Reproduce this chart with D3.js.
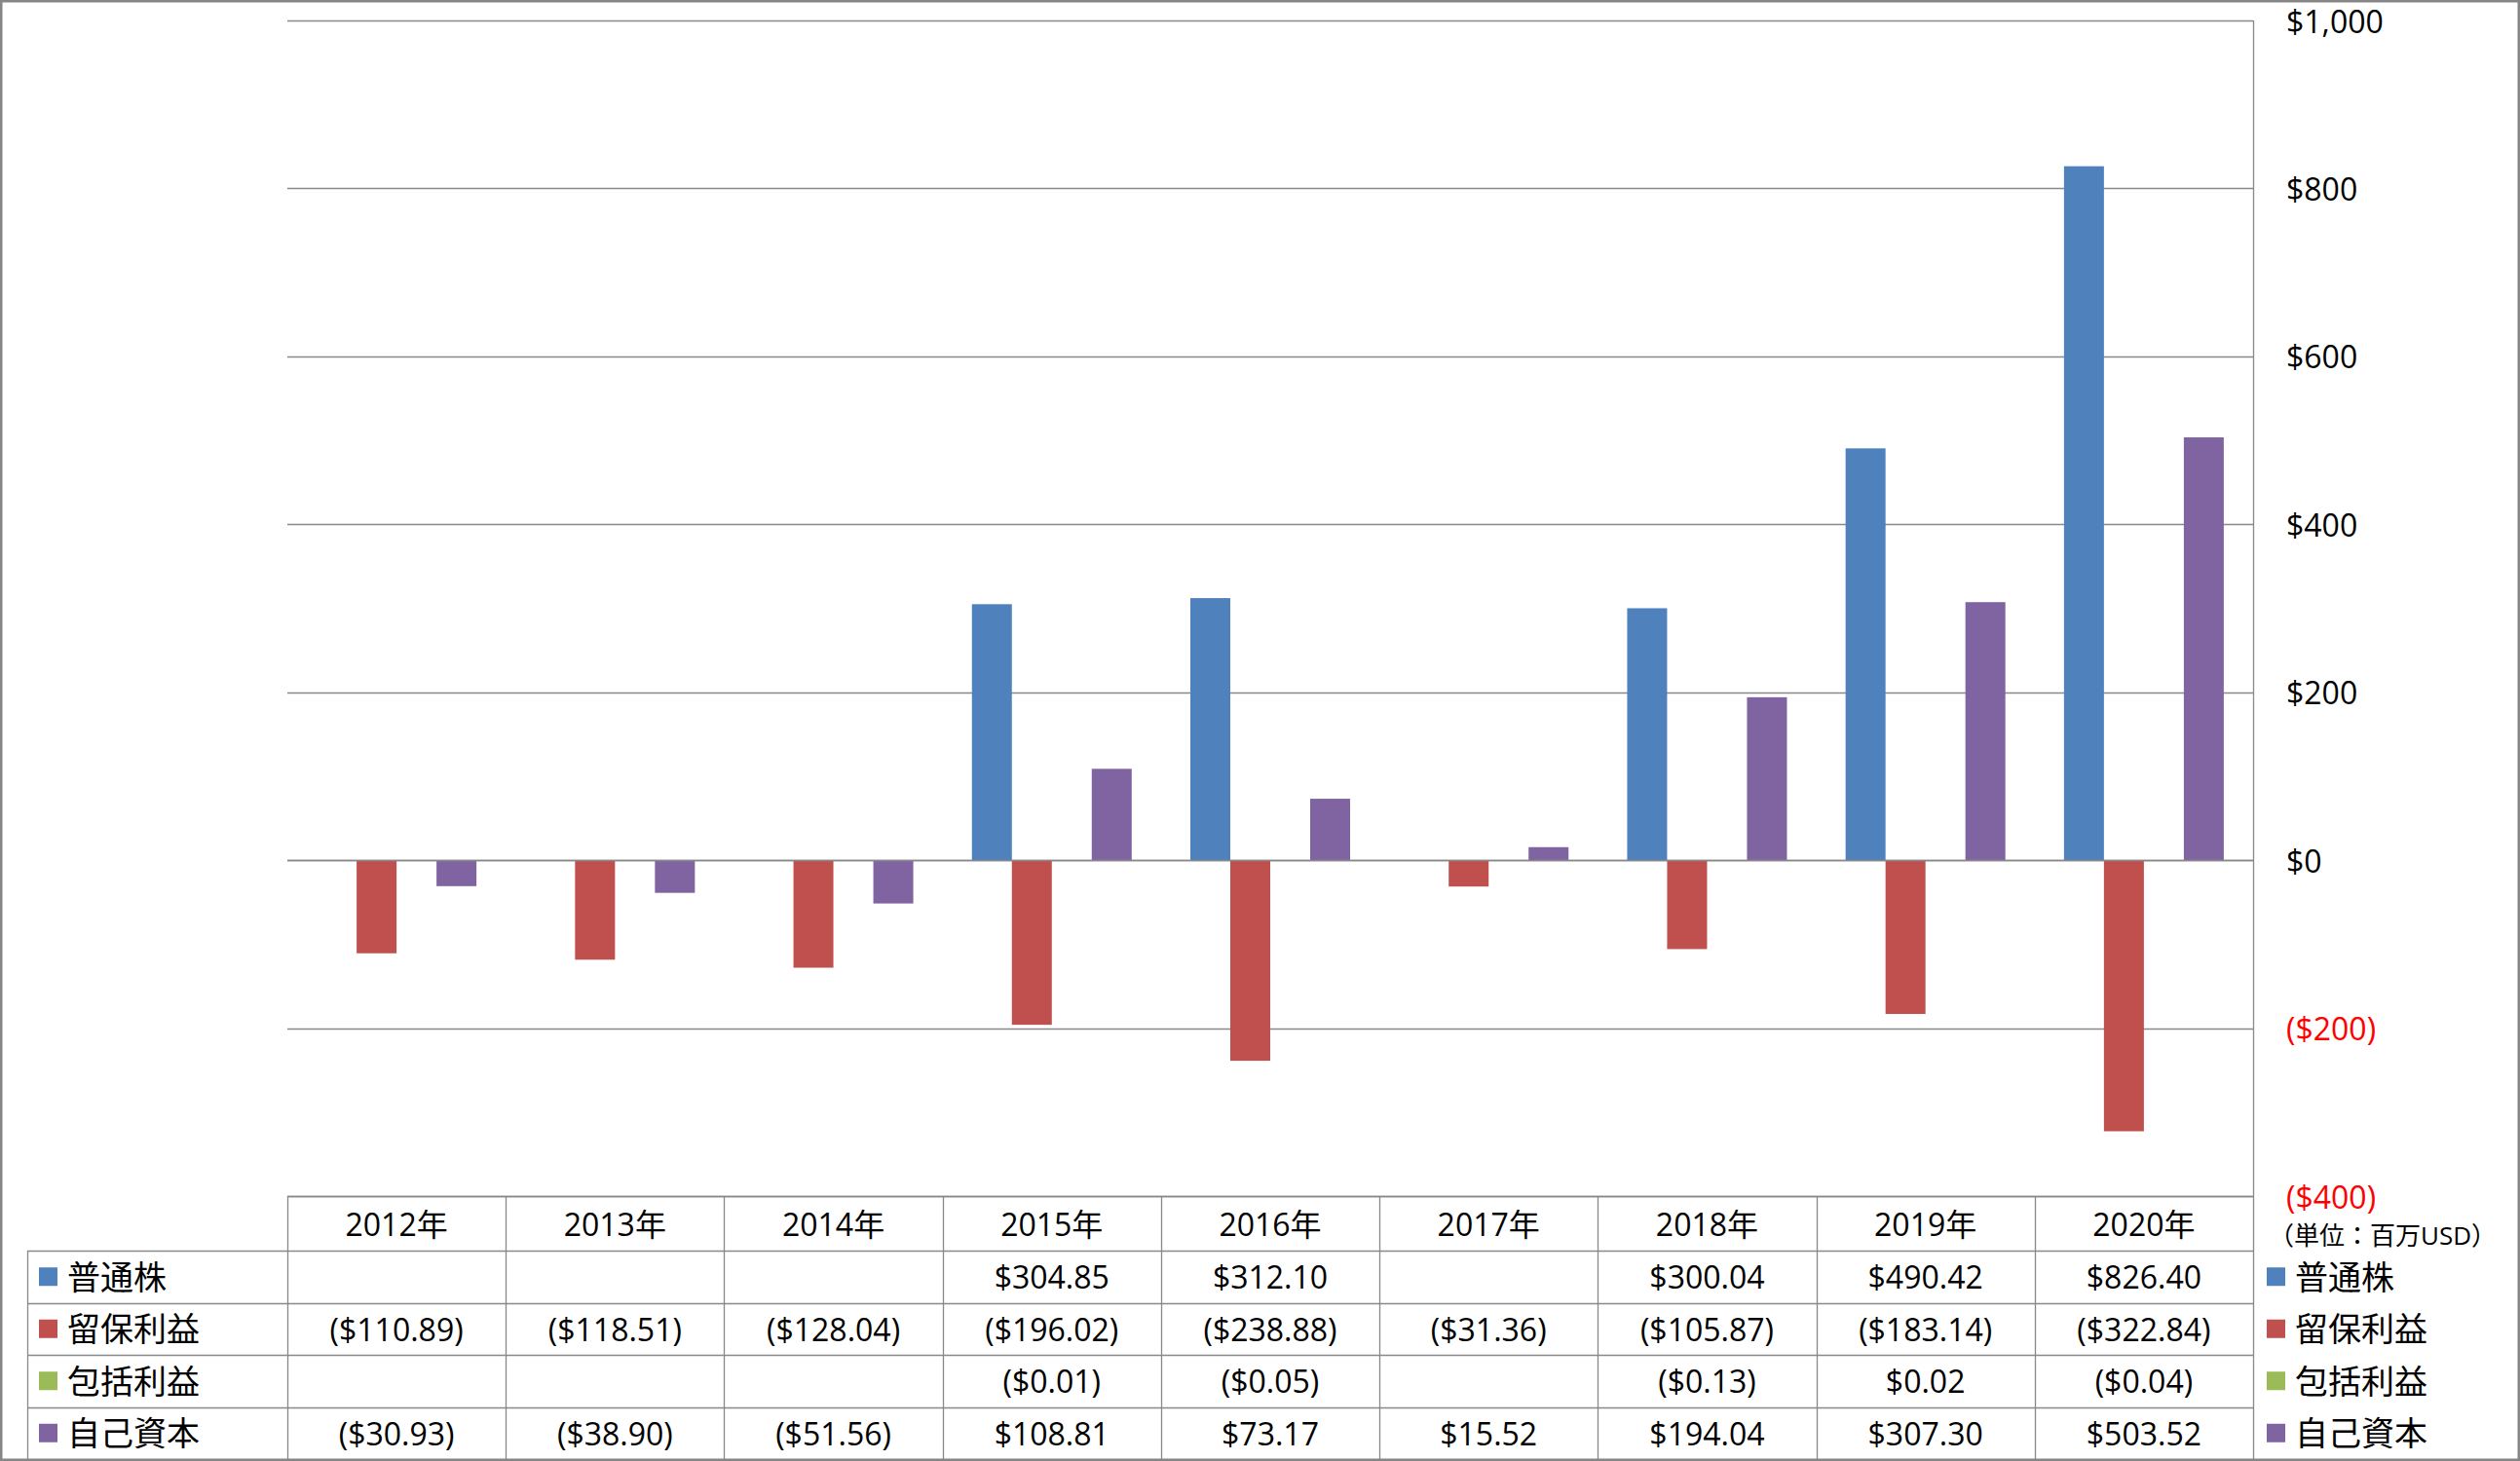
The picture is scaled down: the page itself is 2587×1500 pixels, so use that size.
<!DOCTYPE html>
<html><head><meta charset="utf-8">
<script src="https://cdn.jsdelivr.net/npm/d3@7"></script>
<style>
html,body{margin:0;padding:0;background:#fff;}
svg text{font-family:"Open Sans","Noto Sans CJK JP",sans-serif;}
</style></head>
<body>
<svg id="chart" width="2587" height="1500"></svg>
<script>
const categories = ["2012年","2013年","2014年","2015年","2016年","2017年","2018年","2019年","2020年"];
const seriesNames = ["普通株","留保利益","包括利益","自己資本"];
const seriesColors = ["#4F81BD","#C0504D","#9BBB59","#8064A2"];
const commonStock = [null,null,null,304.85,312.10,null,300.04,490.42,826.40];
const retainedEarnings = [-110.89,-118.51,-128.04,-196.02,-238.88,-31.36,-105.87,-183.14,-322.84];
const comprehensiveIncome = [null,null,null,-0.01,-0.05,null,-0.13,0.02,-0.04];
const equity = [-30.93,-38.90,-51.56,108.81,73.17,15.52,194.04,307.30,503.52];
const yTicks = [-400,-200,0,200,400,600,800,1000];
const unitLabel = "（単位：百万USD）";

const seriesValues = [commonStock, retainedEarnings, comprehensiveIncome, equity];

const svg = d3.select("#chart");
const W = 2587, H = 1500;
const plotL = 295, plotR = 2313, plotT = 21, plotB = 1228;
const tableTop = 1228, headerB = 1284, rowH = 53.5, tableB = 1498;
const legendL = 28;
const numSize = 32, cjkSize = 34;

const x0 = d3.scaleBand().domain(categories).range([plotL, plotR]).paddingInner(0).paddingOuter(0);
const bw = x0.bandwidth();
const groupW = bw * 0.7315;
const x1 = d3.scaleBand().domain(seriesNames).range([(bw-groupW)/2, (bw+groupW)/2]).padding(0);
const y = d3.scaleLinear().domain([-400,1000]).range([plotB, plotT]);

const gridColor = "#898989";

svg.append("g").selectAll("line").data(yTicks).join("line")
  .attr("x1", plotL).attr("x2", plotR)
  .attr("y1", d => Math.round(y(d))+0.5).attr("y2", d => Math.round(y(d))+0.5)
  .attr("stroke", gridColor).attr("stroke-width", 1.3);

svg.append("line").attr("x1", plotR+0.5).attr("x2", plotR+0.5).attr("y1", plotT).attr("y2", tableB)
  .attr("stroke", gridColor).attr("stroke-width", 1.3);

const barData = [];
seriesValues.forEach((vals, si) => vals.forEach((v, ci) => {
  if (v !== null) barData.push({s: seriesNames[si], c: categories[ci], v: v, color: seriesColors[si]});
}));
svg.append("g").selectAll("rect").data(barData).join("rect")
  .attr("x", d => x0(d.c) + x1(d.s))
  .attr("width", x1.bandwidth())
  .attr("y", d => Math.min(y(d.v), y(0)))
  .attr("height", d => Math.max(Math.abs(y(d.v) - y(0)), d.v !== 0 ? 1 : 0))
  .attr("fill", d => d.color);

svg.append("line").attr("x1", plotL).attr("x2", plotR)
  .attr("y1", Math.round(y(0))+0.5).attr("y2", Math.round(y(0))+0.5)
  .attr("stroke", gridColor).attr("stroke-width", 1.3);

const fmtAxis = d => d < 0 ? "($" + d3.format(",")(-d) + ")" : "$" + d3.format(",")(d);
svg.append("g").selectAll("text").data(yTicks).join("text")
  .attr("x", 2347).attr("y", d => y(d))
  .attr("dominant-baseline", "central")
  .attr("font-size", numSize)
  .attr("fill", d => d < 0 ? "#FF0000" : "#000")
  .text(fmtAxis);

svg.append("text").attr("x", 2446).attr("y", 1268).attr("text-anchor", "middle")
  .attr("dominant-baseline", "central").attr("font-size", 26).attr("fill", "#000").text(unitLabel);

const tg = svg.append("g");
tg.append("line").attr("x1", plotL).attr("x2", plotR).attr("y1", tableTop+0.5).attr("y2", tableTop+0.5)
  .attr("stroke", gridColor).attr("stroke-width", 1.3);
const rowTops = seriesNames.map((s, i) => headerB + i*rowH);
tg.selectAll("line.row").data(rowTops).join("line").attr("class","row")
  .attr("x1", legendL).attr("x2", plotR).attr("y1", d => Math.round(d)+0.5).attr("y2", d => Math.round(d)+0.5)
  .attr("stroke", gridColor).attr("stroke-width", 1.3);
const colEdges = categories.map(c => x0(c));
tg.selectAll("line.col").data(colEdges).join("line").attr("class","col")
  .attr("x1", d => Math.round(d)+0.5).attr("x2", d => Math.round(d)+0.5)
  .attr("y1", tableTop).attr("y2", tableB)
  .attr("stroke", gridColor).attr("stroke-width", 1.3);
tg.append("line").attr("x1", legendL+0.5).attr("x2", legendL+0.5).attr("y1", headerB).attr("y2", tableB)
  .attr("stroke", gridColor).attr("stroke-width", 1.3);

tg.selectAll("text.hdr").data(categories).join("text").attr("class","hdr")
  .attr("x", d => x0(d) + bw/2).attr("y", (tableTop+headerB)/2)
  .attr("text-anchor","middle").attr("dominant-baseline","central")
  .attr("font-size", numSize).attr("fill","#000").text(d => d);

const fmtVal = v => v < 0 ? "($" + d3.format(",.2f")(-v) + ")" : "$" + d3.format(",.2f")(v);

seriesNames.forEach((s, si) => {
  const cy = rowTops[si] + rowH/2;
  tg.append("rect").attr("x", 40).attr("y", cy - 9.5).attr("width", 19).attr("height", 19).attr("fill", seriesColors[si]);
  tg.append("text").attr("x", 69).attr("y", cy).attr("dominant-baseline","central")
    .attr("font-size", cjkSize).attr("fill","#000").text(s);
  tg.append("rect").attr("x", 2327).attr("y", cy - 9.5).attr("width", 19).attr("height", 19).attr("fill", seriesColors[si]);
  tg.append("text").attr("x", 2356).attr("y", cy).attr("dominant-baseline","central")
    .attr("font-size", cjkSize).attr("fill","#000").text(s);
  tg.selectAll("text.v"+si).data(seriesValues[si].map((v,ci)=>({v, c: categories[ci]})).filter(d => d.v !== null))
    .join("text").attr("class","v"+si)
    .attr("x", d => x0(d.c) + bw/2).attr("y", cy)
    .attr("text-anchor","middle").attr("dominant-baseline","central")
    .attr("font-size", numSize).attr("fill","#000").text(d => fmtVal(d.v));
});

svg.append("rect").attr("x", 1.25).attr("y", 1.25).attr("width", W - 2.5).attr("height", H - 2.5)
  .attr("fill","none").attr("stroke","#868686").attr("stroke-width", 2.5);
</script>
</body></html>
